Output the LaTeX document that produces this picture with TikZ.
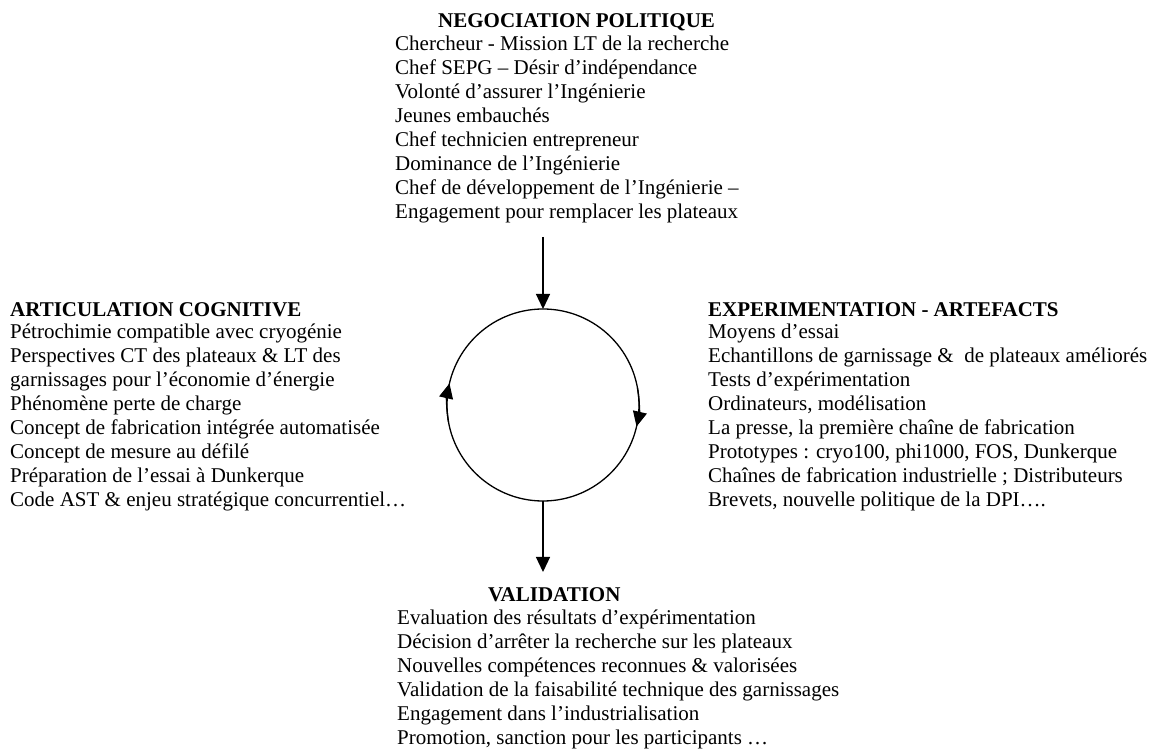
\documentclass[tikz,border=0pt]{standalone}
\usepackage{fontspec}
\setmainfont{Liberation Serif}
\usetikzlibrary{arrows.meta,positioning}

\begin{document}
\begin{tikzpicture}[x=1pt, y=1pt, >={Triangle[length=15pt,width=14pt]},
  every node/.style={font=\fontsize{21}{24}\selectfont, inner sep=0pt},
  titre/.style={font=\fontsize{21}{24}\selectfont\bfseries, anchor=base west},
  liste/.style={align=left, anchor=base west},
  fleche/.style={->, line width=1.3pt}]
\useasboundingbox (0,0) rectangle (1157,753);

% negociation politique (base = derniere ligne)
\node[titre] (negoT) at (438,725) {NEGOCIATION POLITIQUE};
\node[liste] (nego) at (395,534) {Chercheur - Mission LT de la recherche\\
  Chef SEPG – Désir d’indépendance\\
  Volonté d’assurer l’Ingénierie\\
  Jeunes embauchés\\
  Chef technicien entrepreneur\\
  Dominance de l’Ingénierie\\
  Chef de développement de l’Ingénierie –\\
  Engagement pour remplacer les plateaux};

% articulation cognitive
\node[titre] (artiT) at (10,436) {ARTICULATION COGNITIVE};
\node[liste] (arti) at (10,246) {Pétrochimie compatible avec cryogénie\\
  Perspectives CT des plateaux \& LT des\\
  garnissages pour l’économie d’énergie\\
  Phénomène perte de charge\\
  Concept de fabrication intégrée automatisée\\
  Concept de mesure au défilé\\
  Préparation de l’essai à Dunkerque\\
  Code AST \& enjeu stratégique concurrentiel…};

% experimentation
\node[titre] (expeT) at (708,436) {EXPERIMENTATION - ARTEFACTS};
\node[liste] (expe) at (708,246) {Moyens d’essai\\
  Echantillons de garnissage \& \ de plateaux améliorés\\
  Tests d’expérimentation\\
  Ordinateurs, modélisation\\
  La presse, la première chaîne de fabrication\\
  Prototypes : cryo100, phi1000, FOS, Dunkerque\\
  Chaînes de fabrication industrielle ; Distributeurs\\
  Brevets, nouvelle politique de la DPI….};

% validation
\node[titre] (valiT) at (488,151) {VALIDATION};
\node[liste] (vali) at (397,9) {Evaluation des résultats d’expérimentation\\
  Décision d’arrêter la recherche sur les plateaux\\
  Nouvelles compétences reconnues \& valorisées\\
  Validation de la faisabilité technique des garnissages\\
  Engagement dans l’industrialisation\\
  Promotion, sanction pour les participants …};

% cycle
\node[draw, circle, line width=1.3pt, outer sep=0pt, minimum size=192pt] (cycle) at (543,348) {};
\coordinate (haut) at (543,516);
\coordinate (bas) at (543,181);

\draw[fleche] (haut) -- (cycle.north);
\draw[fleche] (cycle.south) -- (bas);
\draw[fleche] (cycle.190) arc[start angle=190, end angle=167, radius=96pt];
\draw[fleche] (cycle.10) arc[start angle=10, end angle=-13, radius=96pt];
\end{tikzpicture}
\end{document}
